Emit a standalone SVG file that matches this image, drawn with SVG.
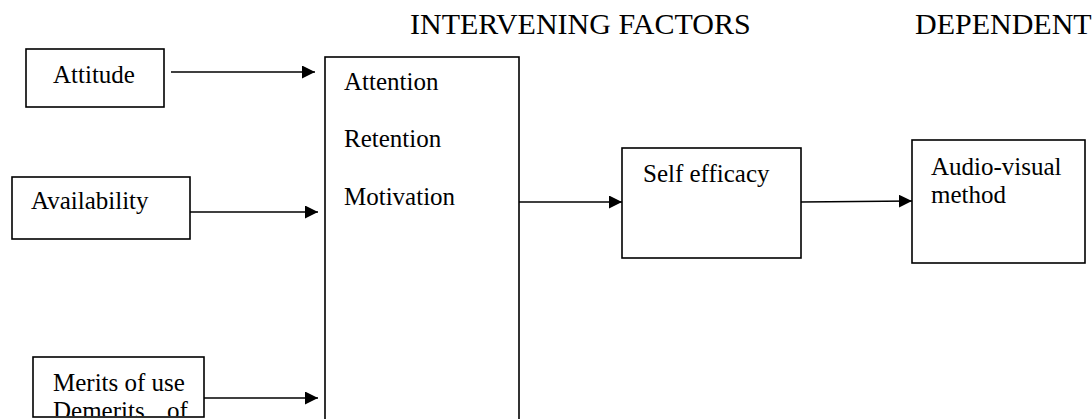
<svg xmlns="http://www.w3.org/2000/svg" width="1092" height="419" viewBox="0 0 1092 419">
<style>
.box{fill:#fff;stroke:#000;stroke-width:1.6}
text{fill:#000}
.t{font-size:25px}
.h{font-size:30px}
.c{stroke:#000;stroke-width:1.6;fill:none}
</style>
<defs>
<marker id="arr" markerUnits="userSpaceOnUse" markerWidth="14" markerHeight="14" refX="13" refY="6.5" orient="auto">
<path d="M0,0 L13,6.5 L0,13 z" fill="#000"/>
</marker>
<clipPath id="mclip"><rect x="33" y="357" width="171" height="59"/></clipPath>
</defs>
<rect width="1092" height="419" fill="#fff"/>
<g font-family="'Liberation Serif', 'Times New Roman', Times, serif">
<g id="headers">
<text class="h" x="410" y="34">INTERVENING FACTORS</text>
<text class="h" x="915" y="34" font-size="29.5">DEPENDENT</text>
</g>
<g id="attitude">
<rect class="box" x="26" y="49" width="138" height="58"/>
<text class="t" x="53" y="83">Attitude</text>
</g>
<g id="availability">
<rect class="box" x="12" y="177" width="178" height="62"/>
<text class="t" x="31" y="209">Availability</text>
</g>
<g id="merits">
<rect class="box" x="33" y="357" width="171" height="60"/>
<g clip-path="url(#mclip)">
<text class="t" x="53" y="391">Merits of use</text>
<text class="t" x="53" y="419">Demerits<tspan x="167">of</tspan></text>
</g>
</g>
<g id="factors">
<rect class="box" x="325" y="57" width="194" height="420"/>
<text class="t" x="344" y="90">Attention</text>
<text class="t" x="344" y="147">Retention</text>
<text class="t" x="344" y="205">Motivation</text>
</g>
<g id="selfefficacy">
<rect class="box" x="622" y="148" width="179" height="110"/>
<text class="t" x="643" y="182">Self efficacy</text>
</g>
<g id="audiovisual">
<rect class="box" x="912" y="140" width="173" height="123"/>
<text class="t" x="931" y="175">Audio-visual</text>
<text class="t" x="931" y="203">method</text>
</g>
</g>
<g id="connectors">
<line class="c" x1="171" y1="72" x2="315" y2="72" marker-end="url(#arr)"/>
<line class="c" x1="190" y1="212" x2="318" y2="212" marker-end="url(#arr)"/>
<line class="c" x1="204" y1="398" x2="318" y2="398" marker-end="url(#arr)"/>
<line class="c" x1="519" y1="202" x2="622" y2="202" marker-end="url(#arr)"/>
<line class="c" x1="801" y1="202" x2="912" y2="201" marker-end="url(#arr)"/>
</g>
</svg>
